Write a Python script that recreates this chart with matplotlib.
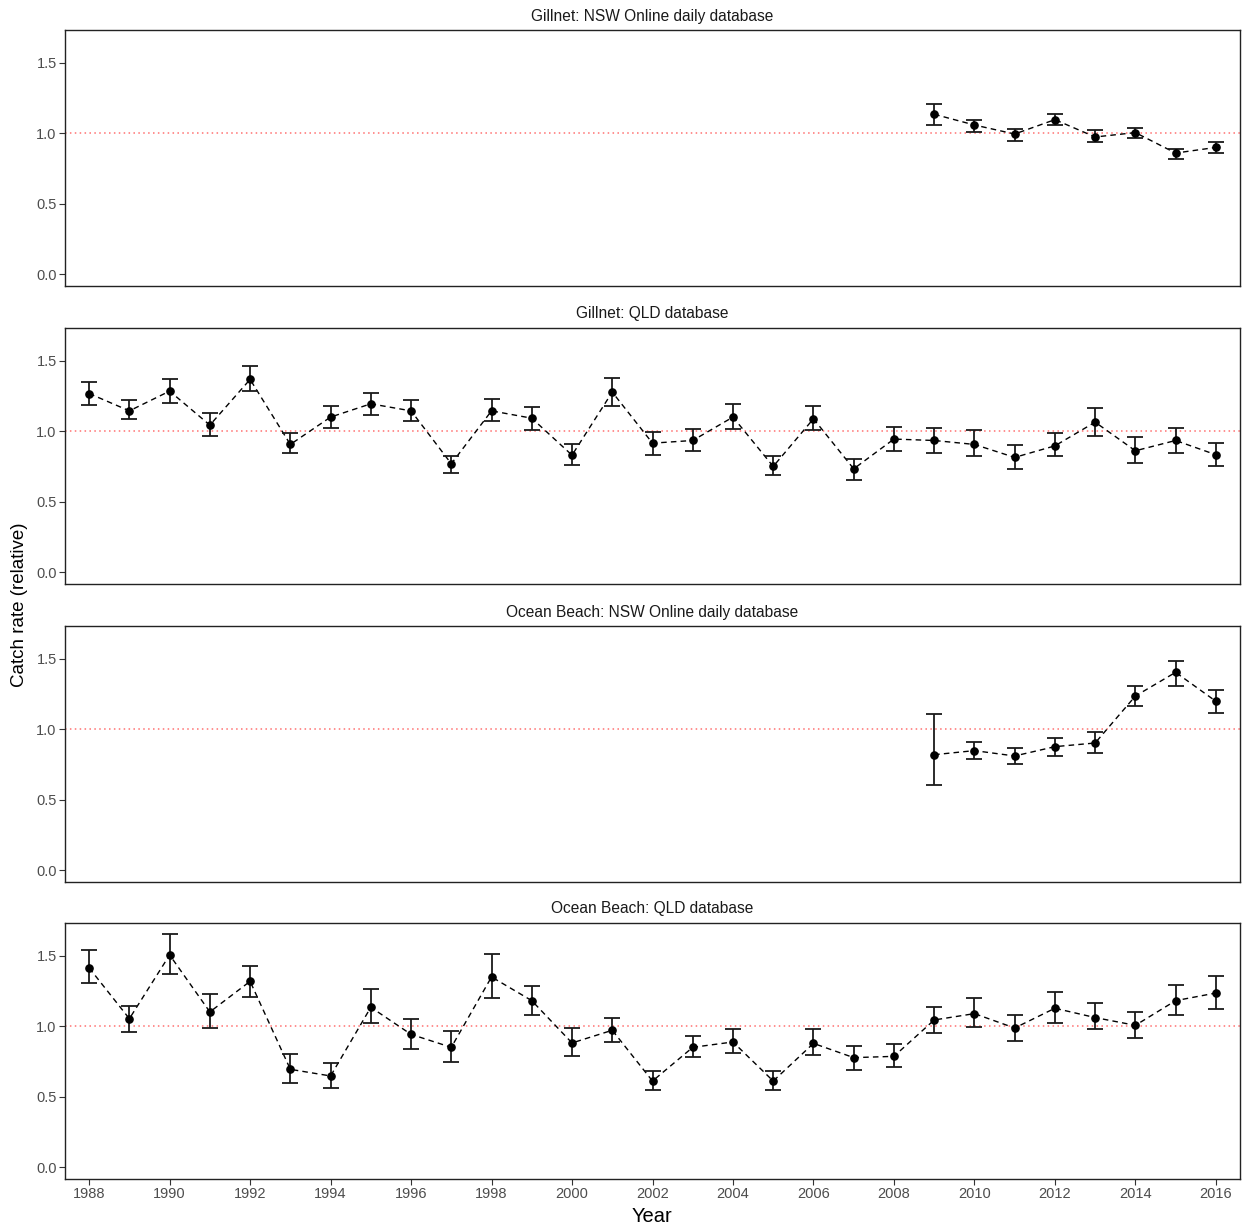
import matplotlib
matplotlib.use("Agg")
import matplotlib.pyplot as plt
import numpy as np

plt.rcParams['font.family'] = ['Liberation Sans', 'DejaVu Sans']

titles = ["Gillnet: NSW Online daily database", "Gillnet: QLD database",
          "Ocean Beach: NSW Online daily database", "Ocean Beach: QLD database"]

years_nsw = list(range(2009, 2017))
years_qld = list(range(1988, 2017))

# Gillnet NSW
g_nsw_est = [1.135, 1.059, 0.995, 1.097, 0.974, 1.005, 0.860, 0.900]
g_nsw_lo = [1.062, 1.012, 0.948, 1.062, 0.936, 0.967, 0.818, 0.863]
g_nsw_hi = [1.206, 1.094, 1.028, 1.140, 1.021, 1.040, 0.891, 0.936]

# Gillnet QLD
g_qld_est = [1.268, 1.145, 1.285, 1.044, 1.368, 0.907, 1.101, 1.195, 1.145, 0.770,
             1.145, 1.093, 0.831, 1.278, 0.916, 0.935, 1.101, 0.751, 1.089, 0.734,
             0.945, 0.935, 0.907, 0.815, 0.897, 1.065, 0.862, 0.935, 0.834]
g_qld_lo = [1.190, 1.084, 1.204, 0.970, 1.285, 0.843, 1.027, 1.119, 1.074, 0.701,
            1.074, 1.008, 0.758, 1.183, 0.833, 0.862, 1.018, 0.687, 1.011, 0.658,
            0.862, 0.843, 0.822, 0.732, 0.824, 0.970, 0.777, 0.843, 0.751]
g_qld_hi = [1.349, 1.219, 1.368, 1.129, 1.460, 0.987, 1.183, 1.275, 1.219, 0.822,
            1.228, 1.171, 0.907, 1.377, 0.998, 1.015, 1.193, 0.822, 1.181, 0.805,
            1.034, 1.025, 1.008, 0.904, 0.987, 1.162, 0.961, 1.025, 0.914]

# Ocean Beach NSW
o_nsw_est = [0.820, 0.849, 0.811, 0.877, 0.903, 1.236, 1.404, 1.199]
o_nsw_lo = [0.605, 0.790, 0.754, 0.811, 0.830, 1.163, 1.310, 1.116]
o_nsw_hi = [1.109, 0.913, 0.865, 0.939, 0.979, 1.307, 1.482, 1.279]

# Ocean Beach QLD
o_qld_est = [1.414, 1.054, 1.506, 1.102, 1.319, 0.695, 0.648, 1.135, 0.943, 0.851,
             1.350, 1.182, 0.882, 0.972, 0.612, 0.851, 0.889, 0.612, 0.879, 0.778,
             0.787, 1.045, 1.090, 0.988, 1.128, 1.062, 1.007, 1.182, 1.236]
o_qld_lo = [1.305, 0.960, 1.369, 0.988, 1.210, 0.600, 0.565, 1.026, 0.839, 0.747,
            1.201, 1.080, 0.787, 0.887, 0.546, 0.785, 0.813, 0.546, 0.794, 0.693,
            0.712, 0.953, 0.998, 0.896, 1.026, 0.981, 0.915, 1.080, 1.125]
o_qld_hi = [1.541, 1.144, 1.652, 1.227, 1.430, 0.801, 0.740, 1.262, 1.050, 0.969,
            1.513, 1.284, 0.988, 1.062, 0.683, 0.931, 0.981, 0.683, 0.981, 0.858,
            0.877, 1.135, 1.199, 1.080, 1.246, 1.163, 1.099, 1.291, 1.355]

series = [
    (years_nsw, g_nsw_est, g_nsw_lo, g_nsw_hi),
    (years_qld, g_qld_est, g_qld_lo, g_qld_hi),
    (years_nsw, o_nsw_est, o_nsw_lo, o_nsw_hi),
    (years_qld, o_qld_est, o_qld_lo, o_qld_hi),
]

W, H = 1244, 1229
fig = plt.figure(figsize=(W / 100, H / 100), dpi=100)

left, right = 65, 1240
tops = [30, 328, 626, 923]
ph = 256

xticks = list(range(1988, 2017, 2))
yticks = [0.0, 0.5, 1.0, 1.5]
tick_col = "#4D4D4D"

for i, (yrs, est, lo, hi) in enumerate(series):
    top = tops[i]
    ax = fig.add_axes([left / W, 1 - (top + ph) / H, (right - left) / W, ph / H])
    ax.axhline(1.0, color="#FF7070", linestyle=(0, (1, 2.2)), linewidth=1.1, zorder=1)
    yrs_a = np.array(yrs)
    est_a = np.array(est)
    err = [est_a - np.array(lo), np.array(hi) - est_a]
    ax.plot(yrs_a, est_a, linestyle=(0, (4, 3)), color="black", linewidth=1.0, zorder=2)
    ax.errorbar(yrs_a, est_a, yerr=err, fmt="none", ecolor="#1a1a1a",
                elinewidth=1.3, capsize=5.5, capthick=1.3, zorder=3)
    ax.plot(yrs_a, est_a, "o", color="black", markersize=5.2, zorder=4)
    ax.set_xlim(1987.4, 2016.6)
    ax.set_ylim(-0.0825, 1.7325)
    ax.set_yticks(yticks)
    ax.set_yticklabels([f"{t:.1f}" for t in yticks])
    ax.set_xticks(xticks)
    if i == 3:
        ax.set_xticklabels([str(x) for x in xticks])
        ax.tick_params(axis="x", length=4, width=0.8, color="#333333",
                       labelcolor=tick_col, labelsize=10.5, pad=2)
    else:
        ax.tick_params(axis="x", bottom=False, labelbottom=False)
    ax.tick_params(axis="y", length=4, width=0.8, color="#333333",
                   labelcolor=tick_col, labelsize=10.5, pad=2)
    for s in ax.spines.values():
        s.set_linewidth(1.0)
        s.set_color("#222222")
    fig.text(652 / W, 1 - (top - 14) / H, titles[i], ha="center", va="center",
             fontsize=11.2, color="#1a1a1a")

fig.text(652 / W, 1 - 1217 / H, "Year", ha="center", va="center", fontsize=14.5, color="black")
fig.text(20 / W, 1 - 605 / H, "Catch rate (relative)", ha="center", va="center",
         rotation=90, fontsize=13.5, color="black")

fig.savefig("out.png", dpi=100, facecolor="white")
